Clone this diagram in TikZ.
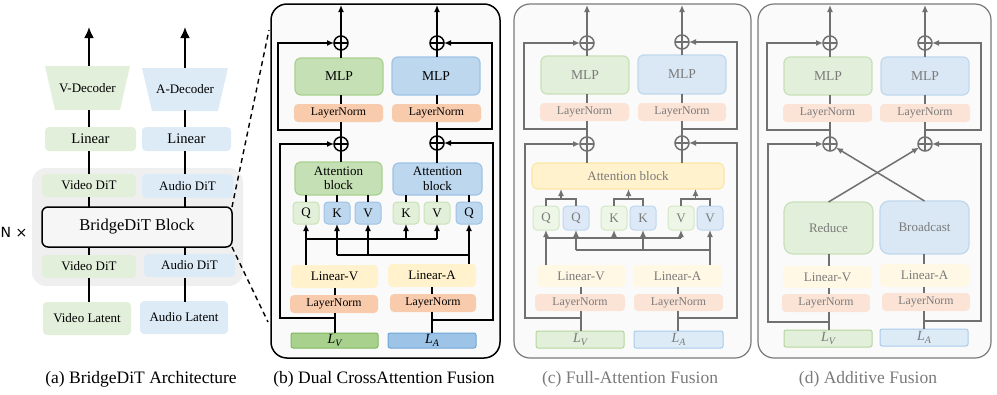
\documentclass[tikz,border=0pt]{standalone}
\usepackage{fontspec}
\setmainfont{Liberation Serif}
\newfontfamily\symfont{DejaVu Sans}
\usetikzlibrary{arrows.meta}
\definecolor{gA}{HTML}{E2EFDA}
\definecolor{bA}{HTML}{DDEBF7}
\definecolor{gD}{HTML}{C5E0B4}
\definecolor{gDb}{HTML}{A9D18E}
\definecolor{bD}{HTML}{BDD7EE}
\definecolor{bDb}{HTML}{9DC3E6}
\definecolor{gL}{HTML}{E2F0D9}
\definecolor{gLb}{HTML}{C9E2B8}
\definecolor{sal}{HTML}{F8CBAD}
\definecolor{yel}{HTML}{FFF2CC}
\definecolor{LvF}{HTML}{A9D18E}
\definecolor{LvB}{HTML}{80B860}
\definecolor{LaF}{HTML}{9DC3E6}
\definecolor{LaB}{HTML}{6FA6D8}
\definecolor{fgM}{HTML}{E2EFDA}
\definecolor{fgMb}{HTML}{C8E1B8}
\definecolor{fbM}{HTML}{DAE8F5}
\definecolor{fbMb}{HTML}{BFD8EE}
\definecolor{fsal}{HTML}{FBE3D6}
\definecolor{fyel}{HTML}{FFF2CC}
\definecolor{fyelb}{HTML}{FCE7A6}
\definecolor{flin}{HTML}{FFF8E5}
\definecolor{fqg}{HTML}{EEF6E8}
\definecolor{fqgb}{HTML}{D3E7C5}
\definecolor{fqb}{HTML}{DDE9F6}
\definecolor{fqbb}{HTML}{BED7EE}
\definecolor{fLv}{HTML}{E2EFDA}
\definecolor{fLvb}{HTML}{B5D69E}
\definecolor{fLa}{HTML}{DDEBF7}
\definecolor{fLab}{HTML}{A9CBEA}
\definecolor{lg}{HTML}{707070}
\definecolor{tg}{HTML}{7A7A7A}
\definecolor{pbg}{HTML}{FAFAFA}
\newcommand\fs[2]{\fontsize{#1}{#2}\selectfont}
\newcommand\bx[7]{\node[#2, minimum width={(#5)-(#3)}, minimum height={(#6)-(#4)}] (#1) at ({((#3)+(#5))/2},{((#4)+(#6))/2}) {#7};}
\newcommand\LV{{\itshape L\raisebox{-0.35ex}{\fs{10}{10}V}}}
\newcommand\LA{{\itshape L\raisebox{-0.35ex}{\fs{10}{10}A}}}
\tikzset{
  bxs/.style={inner sep=0pt, outer sep=0pt, rounded corners=4pt, align=center, font=\fs{13}{14.5}},
  lnb/.style={line width=1.6pt, black},
  arrb/.style={lnb, -{Latex[length=7pt,width=6pt]}},
  lnc/.style={line width=1.5pt, lg},
  arrc/.style={lnc, -{Latex[length=7pt,width=6pt]}},
  lna/.style={line width=2pt, black},
  opx/.style={circle, draw=#1, line width=1.5pt, minimum size=14pt, inner sep=0pt, outer sep=0pt,
    path picture={\draw[#1, line width=1.5pt] (path picture bounding box.north) -- (path picture bounding box.south) (path picture bounding box.west) -- (path picture bounding box.east);}},
  opx/.default=black,
}
\begin{document}
\begin{tikzpicture}[x=1pt,y=-1pt]
\useasboundingbox (0,0) rectangle (997,394);

%% ---------------- panel (a)
\fill[gA] (45,66) -- (130,66) -- (120,110) -- (55,110) -- cycle;
\fill[bA] (142,68) -- (228,68) -- (218,111) -- (152,111) -- cycle;
\node[inner sep=0pt, minimum width=65, minimum height=44, font=\fs{13}{14}] (vdec) at (87.5,88) {V-Decoder};
\node[inner sep=0pt, minimum width=66, minimum height=43, font=\fs{13}{14}] (adec) at (185,89.5) {A-Decoder};
\bx{vlin}{bxs, fill=gA, font=\fs{14.6}{16}}{45}{127}{136}{151}{Linear}
\bx{alin}{bxs, fill=bA, font=\fs{14.6}{16}}{142}{127}{231}{151}{Linear}
\fill[fill={rgb,255:red,239;green,239;blue,239}, rounded corners=14pt] (32,168) rectangle (243,286);
\bx{vdit1}{bxs, fill=gA}{42}{174}{136}{197}{Video DiT}
\bx{adit1}{bxs, fill=bA}{142}{174}{233}{198}{Audio DiT}
\bx{block}{bxs, draw=black, line width=1.5pt, fill={rgb,255:red,246;green,246;blue,246}, rounded corners=6pt, font=\fs{16.5}{18}}{42}{207}{232}{247}{BridgeDiT Block}
\bx{vdit2}{bxs, fill=gA}{42}{255}{136}{278}{Video DiT}
\bx{adit2}{bxs, fill=bA}{144}{254}{235}{277}{Audio DiT}
\bx{vlat}{bxs, fill=gA}{43}{302}{131}{335}{Video Latent}
\bx{alat}{bxs, fill=bA}{140}{301}{228}{334}{Audio Latent}
\node[font=\symfont\fs{14}{16}, inner sep=0pt] (nx) at (14,232) {N ×};
\coordinate (ca) at (89,0);
\coordinate (cb) at (185,0);
\coordinate (topa) at (89,27);
\coordinate (topb) at (185,27);
\foreach \c in {ca,cb}{
  \draw[lna] (\c |- vlat.north) -- (\c |- vdit2.south);
  \draw[lna] (\c |- vdit2.north) -- (\c |- block.south);
  \draw[lna] (\c |- block.north) -- (\c |- vdit1.south);
  \draw[lna] (\c |- vdit1.north) -- (\c |- vlin.south);
  \draw[lna] (\c |- vlin.north) -- (\c |- vdec.south);
}
\draw[lna, -{Latex[length=11pt,width=10pt]}] (ca |- vdec.north) -- (topa);
\draw[lna, -{Latex[length=11pt,width=10pt]}] (cb |- adec.north) -- (topb);
\coordinate (pbTL) at (269,30);
\coordinate (pbBL) at (268,322);
\draw[dashed, line width=1.4pt, dash pattern=on 5pt off 4pt] (block.north east) -- (pbTL);
\draw[dashed, line width=1.4pt, dash pattern=on 5pt off 4pt] (block.south east) -- (pbBL);
\node[font=\fs{17.5}{19}] (capa) at (141,379) {(a) BridgeDiT Architecture};

%% ---------------- panel (b)
\draw[line width=1.5pt, fill=pbg, rounded corners=16pt] (271,4) rectangle (500,358);
\bx{mlpV}{bxs, fill=gD, draw=gDb, line width=1.2pt, rounded corners=6pt, font=\fs{13.6}{15}}{295}{58}{383}{95}{MLP}
\bx{mlpA}{bxs, fill=bD, draw=bDb, line width=1.2pt, rounded corners=6pt, font=\fs{13.6}{15}}{392}{57}{480}{95}{MLP}
\bx{lnV1}{bxs, fill=sal, font=\fs{11.8}{13}}{294}{104}{383}{122}{LayerNorm}
\bx{lnA1}{bxs, fill=sal, font=\fs{11.8}{13}}{392}{104}{481}{122}{LayerNorm}
\node[opx] (opV1) at (341,43) {};
\node[opx] (opA1) at (437,43) {};
\node[opx] (opV2) at (341,144) {};
\node[opx] (opA2) at (437,143) {};
\bx{attV}{bxs, fill=gD, draw=gDb, line width=1.2pt, rounded corners=6pt}{295}{162}{382}{195}{Attention\\block}
\bx{attA}{bxs, fill=bD, draw=bDb, line width=1.2pt, rounded corners=6pt}{393}{163}{482}{195}{Attention\\block}
\bx{qV}{bxs, fill=gL, draw=gLb, line width=1pt}{293}{202}{319}{224}{Q}
\bx{kA}{bxs, fill=bD, draw=bDb, line width=1pt}{324}{202}{350}{224}{K}
\bx{vA}{bxs, fill=bD, draw=bDb, line width=1pt}{355}{202}{381}{224}{V}
\bx{kV}{bxs, fill=gL, draw=gLb, line width=1pt}{393}{202}{419}{224}{K}
\bx{vV}{bxs, fill=gL, draw=gLb, line width=1pt}{424}{202}{450}{224}{V}
\bx{qA}{bxs, fill=bD, draw=bDb, line width=1pt}{456}{202}{482}{224}{Q}
\bx{linV}{bxs, fill=yel}{291}{265}{378}{288}{Linear-V}
\bx{linA}{bxs, fill=yel}{388}{264}{476}{287}{Linear-A}
\bx{lnV2}{bxs, fill=sal, font=\fs{11.8}{13}}{290}{295}{378}{313}{LayerNorm}
\bx{lnA2}{bxs, fill=sal, font=\fs{11.8}{13}}{390}{294}{476}{312}{LayerNorm}
\bx{Lv}{bxs, fill=LvF, draw=LvB, line width=1pt, rounded corners=2pt, font=\fs{14}{15}}{291}{333}{378}{348}{\LV}
\bx{La}{bxs, fill=LaF, draw=LaB, line width=1pt, rounded corners=2pt, font=\fs{14}{15}}{388}{333}{476}{348}{\LA}
\coordinate (topV) at (341,5);
\coordinate (topA) at (437,5);
\foreach \o/\m/\l/\a/\t in {opV1/mlpV/lnV1/attV/topV, opA1/mlpA/lnA1/attA/topA}{
  \draw[arrb] (\o.north) -- (\t);
  \draw[lnb] (\m.north -| \o) -- (\o.south);
  \draw[lnb] (\l.north -| \o) -- (\m.south -| \o);
}
\draw[lnb] (opV2.north) -- (lnV1.south -| opV2);
\draw[lnb] (opA2.north) -- (lnA1.south -| opA2);
\draw[lnb] (attV.north -| opV2) -- (opV2.south);
\draw[lnb] (attA.north -| opA2) -- (opA2.south);
\coordinate (jV1) at (341,130);
\coordinate (jA1) at (437,129);
\draw[arrb] (jV1) -- ++(-63,0) |- (opV1.west);
\draw[arrb] (jA1) -- ++(55,0) |- (opA1.east);
\coordinate (cVb) at (335,0);
\coordinate (cAb) at (432,0);
\draw[lnb] (Lv.north -| cVb) -- (lnV2.south -| cVb);
\draw[lnb] (lnV2.north -| cVb) -- (linV.south -| cVb);
\draw[lnb] (La.north -| cAb) -- (lnA2.south -| cAb);
\draw[lnb] (lnA2.north -| cAb) -- (linA.south -| cAb);
\coordinate (jV2) at (335,318);
\coordinate (jA2) at (432,320);
\draw[arrb] (jV2) -- ++(-55,0) |- (opV2.west);
\draw[arrb] (jA2) -- ++(61,0) |- (opA2.east);
\foreach \q/\a in {qV/attV, kA/attV, vA/attV, kV/attA, vV/attA, qA/attA}{
  \draw[lnb] (\q.north) -- (\q.north |- \a.south);
}
\coordinate (hV) at (0,239);
\coordinate (hA) at (0,255);
\draw[arrb] (qV.south |- linV.north) -- (qV.south);
\draw[lnb] (qV.south |- hV) -- (vV.south |- hV);
\draw[arrb] (kV.south |- hV) -- (kV.south);
\draw[arrb] (vV.south |- hV) -- (vV.south);
\draw[arrb] (qA.south |- linA.north) -- (qA.south);
\draw[lnb] (kA.south |- hA) -- (qA.south |- hA);
\draw[arrb] (kA.south |- hA) -- (kA.south);
\draw[arrb] (vA.south |- hA) -- (vA.south);
\node[font=\fs{17.5}{19}] (capb) at (384,379) {(b) Dual CrossAttention Fusion};

%% ---------------- panel (c)
\draw[line width=1.2pt, draw=tg, fill=pbg, rounded corners=16pt] (514,4) rectangle (751,358);
\begin{scope}[every node/.append style={text=tg}]
\bx{mlpVc}{bxs, fill=fgM, draw=fgMb, line width=1.2pt, rounded corners=6pt, font=\fs{13.6}{15}}{541}{56}{629}{94}{MLP}
\bx{mlpAc}{bxs, fill=fbM, draw=fbMb, line width=1.2pt, rounded corners=6pt, font=\fs{13.6}{15}}{638}{55}{726}{94}{MLP}
\bx{lnV1c}{bxs, fill=fsal, font=\fs{11.8}{13}}{540}{103}{629}{121}{LayerNorm}
\bx{lnA1c}{bxs, fill=fsal, font=\fs{11.8}{13}}{638}{103}{726}{121}{LayerNorm}
\node[opx=lg] (opV1c) at (587,43) {};
\node[opx=lg] (opA1c) at (682,42) {};
\node[opx=lg] (opV2c) at (587,144) {};
\node[opx=lg] (opA2c) at (682,143) {};
\bx{attc}{bxs, fill=fyel, draw=fyelb, line width=1.2pt, rounded corners=6pt}{532}{163}{724}{189}{Attention block}
\bx{qgc}{bxs, fill=fqg, draw=fqgb, line width=1pt}{533}{206}{559}{230}{Q}
\bx{qbc}{bxs, fill=fqb, draw=fqbb, line width=1pt}{563}{206}{589}{230}{Q}
\bx{kgc}{bxs, fill=fqg, draw=fqgb, line width=1pt}{601}{206}{627}{230}{K}
\bx{kbc}{bxs, fill=fqb, draw=fqbb, line width=1pt}{630}{206}{656}{230}{K}
\bx{vgc}{bxs, fill=fqg, draw=fqgb, line width=1pt}{668}{206}{694}{230}{V}
\bx{vbc}{bxs, fill=fqb, draw=fqbb, line width=1pt}{697}{206}{723}{230}{V}
\bx{linVc}{bxs, fill=flin}{537}{265}{625}{287}{Linear-V}
\bx{linAc}{bxs, fill=flin}{633}{265}{722}{287}{Linear-A}
\bx{lnV2c}{bxs, fill=fsal, font=\fs{11.8}{13}}{535}{294}{625}{311}{LayerNorm}
\bx{lnA2c}{bxs, fill=fsal, font=\fs{11.8}{13}}{634}{294}{723}{311}{LayerNorm}
\bx{Lvc}{bxs, fill=fLv, draw=fLvb, line width=1pt, rounded corners=2pt, font=\fs{14}{15}}{536}{331}{624}{348}{\LV}
\bx{Lac}{bxs, fill=fLa, draw=fLab, line width=1pt, rounded corners=2pt, font=\fs{14}{15}}{634}{331}{723}{348}{\LA}
\end{scope}
\coordinate (topVc) at (587,5);
\coordinate (topAc) at (682,5);
\foreach \o/\m/\l/\t in {opV1c/mlpVc/lnV1c/topVc, opA1c/mlpAc/lnA1c/topAc}{
  \draw[arrc] (\o.north) -- (\t);
  \draw[lnc] (\m.north -| \o) -- (\o.south);
  \draw[lnc] (\l.north -| \o) -- (\m.south -| \o);
}
\draw[lnc] (opV2c.north) -- (lnV1c.south -| opV2c);
\draw[lnc] (opA2c.north) -- (lnA1c.south -| opA2c);
\draw[lnc] (attc.north -| opV2c) -- (opV2c.south);
\draw[lnc] (attc.north -| opA2c) -- (opA2c.south);
\coordinate (jV1c) at (587,129);
\coordinate (jA1c) at (682,129);
\draw[arrc] (jV1c) -- ++(-63,0) |- (opV1c.west);
\draw[arrc] (jA1c) -- ++(55,0) |- (opA1c.east);
\coordinate (cVc) at (581,0);
\coordinate (cAc) at (678,0);
\draw[lnc] (Lvc.north -| cVc) -- (lnV2c.south -| cVc);
\draw[lnc] (lnV2c.north -| cVc) -- (linVc.south -| cVc);
\draw[lnc] (Lac.north -| cAc) -- (lnA2c.south -| cAc);
\draw[lnc] (lnA2c.north -| cAc) -- (linAc.south -| cAc);
\coordinate (jV2c) at (581,318);
\coordinate (jA2c) at (678,318);
\draw[arrc] (jV2c) -- ++(-56,0) |- (opV2c.west);
\draw[arrc] (jA2c) -- ++(59,0) |- (opA2c.east);
\coordinate (mc) at (0,199);
\foreach \g/\b/\mx in {qgc/qbc/561, kgc/kbc/628.5, vgc/vbc/695.5}{
  \draw[lnc] (\g.north) -- (\g.north |- mc) -- (\b.north |- mc) -- (\b.north);
  \coordinate (m\g) at (\mx,199);
  \draw[arrc] (m\g) -- (m\g |- attc.south);
}
\coordinate (hVc) at (0,238);
\coordinate (hAc) at (0,250);
\draw[arrc] (qgc.south |- linVc.north) -- (qgc.south);
\draw[lnc] (qgc.south |- hVc) -- (vgc.south |- hVc);
\draw[arrc] (kgc.south |- hVc) -- (kgc.south);
\draw[arrc] (vgc.south |- hVc) -- (vgc.south);
\draw[arrc] (vbc.south |- linAc.north) -- (vbc.south);
\draw[lnc] (qbc.south |- hAc) -- (vbc.south |- hAc);
\draw[arrc] (qbc.south |- hAc) -- (qbc.south);
\draw[arrc] (kbc.south |- hAc) -- (kbc.south);
\node[font=\fs{17.5}{19}, text=tg] (capc) at (630,379) {(c) Full-Attention Fusion};

%% ---------------- panel (d)
\draw[line width=1.2pt, draw=tg, fill=pbg, rounded corners=16pt] (758,4) rectangle (991,358);
\begin{scope}[every node/.append style={text=tg}]
\bx{mlpVd}{bxs, fill=fgM, draw=fgMb, line width=1.2pt, rounded corners=6pt, font=\fs{13.6}{15}}{784}{57}{872}{95}{MLP}
\bx{mlpAd}{bxs, fill=fbM, draw=fbMb, line width=1.2pt, rounded corners=6pt, font=\fs{13.6}{15}}{881}{57}{969}{95}{MLP}
\bx{lnV1d}{bxs, fill=fsal, font=\fs{11.8}{13}}{783}{104}{872}{122}{LayerNorm}
\bx{lnA1d}{bxs, fill=fsal, font=\fs{11.8}{13}}{880}{104}{970}{122}{LayerNorm}
\node[opx=lg] (opV1d) at (830,43) {};
\node[opx=lg] (opA1d) at (925,43) {};
\node[opx=lg] (opV2d) at (830,144) {};
\node[opx=lg] (opA2d) at (925,144) {};
\bx{redd}{bxs, fill=fgM, draw=fgMb, line width=1.2pt, rounded corners=9pt}{784}{202}{873}{254}{Reduce}
\bx{brdd}{bxs, fill=fbM, draw=fbMb, line width=1.2pt, rounded corners=9pt}{880}{201}{969}{254}{Broadcast}
\bx{linVd}{bxs, fill=flin}{783}{266}{872}{288}{Linear-V}
\bx{linAd}{bxs, fill=flin}{880}{264}{969}{287}{Linear-A}
\bx{lnV2d}{bxs, fill=fsal, font=\fs{11.8}{13}}{782}{294}{870}{312}{LayerNorm}
\bx{lnA2d}{bxs, fill=fsal, font=\fs{11.8}{13}}{882}{293}{970}{311}{LayerNorm}
\bx{Lvd}{bxs, fill=fLv, draw=fLvb, line width=1pt, rounded corners=2pt, font=\fs{14}{15}}{784}{330}{872}{347}{\LV}
\bx{Lad}{bxs, fill=fLa, draw=fLab, line width=1pt, rounded corners=2pt, font=\fs{14}{15}}{880}{329}{968}{346}{\LA}
\end{scope}
\coordinate (topVd) at (830,5);
\coordinate (topAd) at (925,5);
\foreach \o/\m/\l/\t in {opV1d/mlpVd/lnV1d/topVd, opA1d/mlpAd/lnA1d/topAd}{
  \draw[arrc] (\o.north) -- (\t);
  \draw[lnc] (\m.north -| \o) -- (\o.south);
  \draw[lnc] (\l.north -| \o) -- (\m.south -| \o);
}
\draw[lnc] (opV2d.north) -- (lnV1d.south -| opV2d);
\draw[lnc] (opA2d.north) -- (lnA1d.south -| opA2d);
\coordinate (jV1d) at (830,130);
\coordinate (jA1d) at (925,130);
\draw[arrc] (jV1d) -- ++(-63,0) |- (opV1d.west);
\draw[arrc] (jA1d) -- ++(56,0) |- (opA1d.east);
\coordinate (cVd) at (829,0);
\coordinate (cAd) at (924,0);
\draw[lnc] (Lvd.north -| cVd) -- (lnV2d.south -| cVd);
\draw[lnc] (lnV2d.north -| cVd) -- (linVd.south -| cVd);
\draw[lnc] (linVd.north -| cVd) -- (redd.south -| cVd);
\draw[lnc] (Lad.north -| cAd) -- (lnA2d.south -| cAd);
\draw[lnc] (lnA2d.north -| cAd) -- (linAd.south -| cAd);
\draw[lnc] (linAd.north -| cAd) -- (brdd.south -| cAd);
\coordinate (jV2d) at (829,322);
\coordinate (jA2d) at (924,321);
\draw[arrc] (jV2d) -- ++(-61,0) |- (opV2d.west);
\draw[arrc] (jA2d) -- ++(57,0) |- (opA2d.east);
\draw[arrc] (redd.north) -- (opA2d);
\draw[arrc] (brdd.north) -- (opV2d);
\node[font=\fs{17.5}{19}, text=tg] (capd) at (868,379) {(d) Additive Fusion};
\end{tikzpicture}
\end{document}
